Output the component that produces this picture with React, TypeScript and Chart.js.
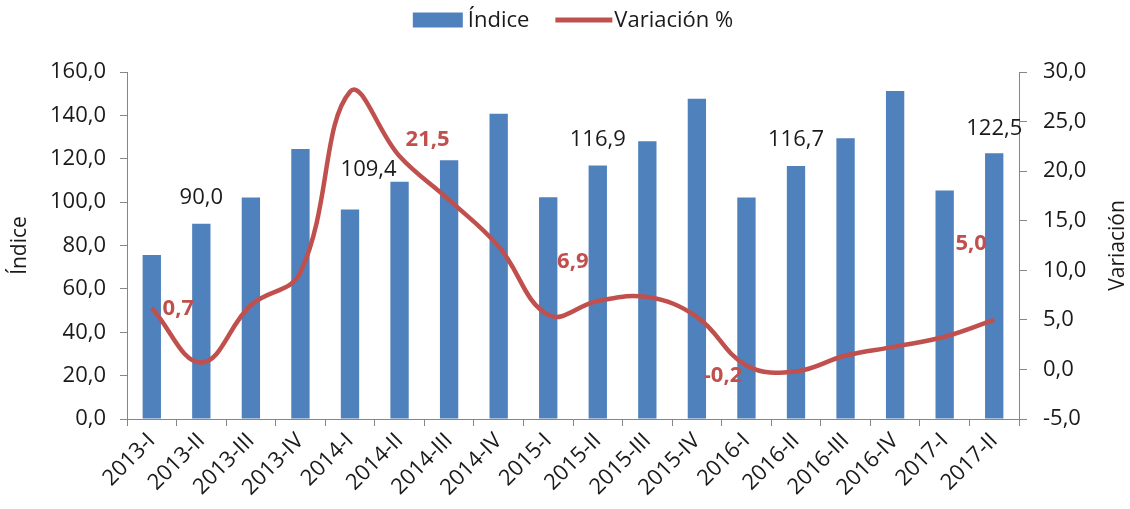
import { useEffect, useRef } from "react";
import { Chart, registerables } from "chart.js";

Chart.register(...registerables);

const categories = [
  "2013-I", "2013-II", "2013-III", "2013-IV",
  "2014-I", "2014-II", "2014-III", "2014-IV",
  "2015-I", "2015-II", "2015-III", "2015-IV",
  "2016-I", "2016-II", "2016-III", "2016-IV",
  "2017-I", "2017-II",
];

const indiceValues = [
  75.6, 90.0, 102.1, 124.5,
  96.6, 109.4, 119.3, 140.7,
  102.3, 116.9, 128.1, 147.7,
  102.1, 116.7, 129.4, 151.2,
  105.4, 122.5,
];

const variacionValues = [
  6.2, 0.7, 6.5, 9.8,
  28.0, 21.5, 17.1, 12.4,
  5.5, 6.9, 7.3, 5.3,
  0.4, -0.2, 1.4, 2.3,
  3.3, 5.0,
];

const leftTicks = [0, 20, 40, 60, 80, 100, 120, 140, 160];
const rightTicks = [-5, 0, 5, 10, 15, 20, 25, 30];

const labeledIndices = [1, 5, 9, 13, 17];

// label placement (pixel offsets from the mark), kept apart from the data
const barLabelOffsets = [[0, -26], [-31, -12], [0, -26], [0, -26], [0, -25]];
const lineLabelOffsets = [[-23, -54], [28, -17], [-25, -39], [-73, 4], [-23, -76]];

const BAR_COLOR = "#4F81BD";
const LINE_COLOR = "#C0504D";
const AXIS_COLOR = "#868686";
const TEXT_COLOR = "#1a1a1a";
const FONT = "'Open Sans', 'Liberation Sans', sans-serif";

const fmt = (v: number) => v.toFixed(1).replace(".", ",");

const annotPlugin = {
  id: "annot",
  afterDatasetsDraw(chart: any) {
    const ctx = chart.ctx as CanvasRenderingContext2D;
    const barMeta = chart.getDatasetMeta(0);
    const lineMeta = chart.getDatasetMeta(1);
    ctx.save();
    ctx.textAlign = "center";
    ctx.textBaseline = "middle";
    labeledIndices.forEach((idx, k) => {
      const bar = barMeta.data[idx];
      const pt = lineMeta.data[idx];
      ctx.font = `22px ${FONT}`;
      ctx.fillStyle = TEXT_COLOR;
      ctx.fillText(fmt(indiceValues[idx]), bar.x + barLabelOffsets[k][0], bar.y + barLabelOffsets[k][1]);
      ctx.font = `bold 22px ${FONT}`;
      ctx.fillStyle = LINE_COLOR;
      ctx.fillText(fmt(variacionValues[idx]), pt.x + lineLabelOffsets[k][0], pt.y + lineLabelOffsets[k][1]);
    });
    ctx.restore();
  },
  afterDraw(chart: any) {
    const ctx = chart.ctx as CanvasRenderingContext2D;
    const area = chart.chartArea;
    const midY = (area.top + area.bottom) / 2;
    ctx.save();
    // axis titles
    ctx.font = `21px ${FONT}`;
    ctx.fillStyle = TEXT_COLOR;
    ctx.textAlign = "center";
    ctx.textBaseline = "middle";
    ctx.save();
    ctx.translate(20, midY);
    ctx.rotate(-Math.PI / 2);
    ctx.fillText("Índice", 0, 0);
    ctx.restore();
    ctx.save();
    ctx.translate(1118, midY);
    ctx.rotate(-Math.PI / 2);
    ctx.fillText("Variación", 0, 0);
    ctx.restore();

    // legend
    const ds = chart.data.datasets;
    ctx.font = `22px ${FONT}`;
    const t1 = ds[0].label as string;
    const t2 = ds[1].label as string;
    const w1 = ctx.measureText(t1).width;
    const w2 = ctx.measureText(t2).width;
    const boxW = 50, lineW = 57, gapA = 5, gapB = 26, gapC = 2;
    const total = boxW + gapA + w1 + gapB + lineW + gapC + w2;
    let x = (area.left + area.right) / 2 - total / 2;
    const cy = 20;
    ctx.fillStyle = BAR_COLOR;
    ctx.fillRect(x, cy - 7.5, boxW, 15);
    x += boxW + gapA;
    ctx.fillStyle = TEXT_COLOR;
    ctx.textAlign = "left";
    ctx.fillText(t1, x, cy + 1);
    x += w1 + gapB;
    ctx.strokeStyle = LINE_COLOR;
    ctx.lineWidth = 5;
    ctx.beginPath();
    ctx.moveTo(x, cy);
    ctx.lineTo(x + lineW, cy);
    ctx.stroke();
    x += lineW + gapC;
    ctx.fillText(t2, x, cy + 1);
    ctx.restore();
  },
};

export default function App() {
  const canvasRef = useRef<HTMLCanvasElement | null>(null);

  useEffect(() => {
    if (!canvasRef.current) return;
    const chart = new Chart(canvasRef.current, {
      type: "bar",
      data: {
        labels: categories,
        datasets: [
          {
            type: "bar",
            label: "Índice",
            data: indiceValues,
            backgroundColor: BAR_COLOR,
            borderWidth: 0,
            barPercentage: 0.37,
            categoryPercentage: 1,
            yAxisID: "y",
            order: 1,
          },
          {
            type: "line",
            label: "Variación %",
            data: variacionValues,
            borderColor: LINE_COLOR,
            backgroundColor: LINE_COLOR,
            borderWidth: 4.5,
            pointRadius: 0,
            tension: 0.4,
            fill: false,
            yAxisID: "y1",
            order: 0,
          } as any,
        ],
      },
      options: {
        animation: false,
        responsive: true,
        maintainAspectRatio: false,
        layout: { padding: { top: 72, left: 0, right: 0, bottom: 0 } },
        plugins: {
          legend: { display: false },
          tooltip: { enabled: false },
        },
        scales: {
          x: {
            type: "category",
            offset: true,
            grid: {
              display: true,
              offset: true,
              drawOnChartArea: false,
              drawTicks: true,
              tickLength: 7,
              color: AXIS_COLOR,
            },
            border: { display: true, color: AXIS_COLOR, width: 1 },
            ticks: {
              autoSkip: false,
              maxRotation: 45,
              minRotation: 45,
              padding: 2,
              color: TEXT_COLOR,
              font: { family: FONT, size: 22 },
            },
            afterFit: (s: any) => { s.height = 90; },
          },
          y: {
            position: "left",
            min: leftTicks[0],
            max: leftTicks[leftTicks.length - 1],
            afterBuildTicks: (s: any) => { s.ticks = leftTicks.map((v) => ({ value: v })); },
            grid: {
              display: true,
              drawOnChartArea: false,
              drawTicks: true,
              tickLength: 7,
              color: AXIS_COLOR,
            },
            border: { display: true, color: AXIS_COLOR, width: 1 },
            ticks: {
              padding: 14,
              color: TEXT_COLOR,
              font: { family: FONT, size: 22 },
              callback: (v: any) => fmt(Number(v)),
            },
            afterFit: (s: any) => { s.width = 127; },
          },
          y1: {
            position: "right",
            min: rightTicks[0],
            max: rightTicks[rightTicks.length - 1],
            afterBuildTicks: (s: any) => { s.ticks = rightTicks.map((v) => ({ value: v })); },
            grid: {
              display: true,
              drawOnChartArea: false,
              drawTicks: true,
              tickLength: 8,
              color: AXIS_COLOR,
            },
            border: { display: true, color: AXIS_COLOR, width: 1 },
            ticks: {
              padding: 16,
              color: TEXT_COLOR,
              font: { family: FONT, size: 22 },
              callback: (v: any) => fmt(Number(v)),
            },
            afterFit: (s: any) => { s.width = 111; },
          },
        },
      },
      plugins: [annotPlugin],
    });
    return () => chart.destroy();
  }, []);

  return (
    <div style={{ position: "fixed", left: 0, top: 0, width: 1130, height: 509, background: "#fff" }}>
      <canvas ref={canvasRef} />
    </div>
  );
}
